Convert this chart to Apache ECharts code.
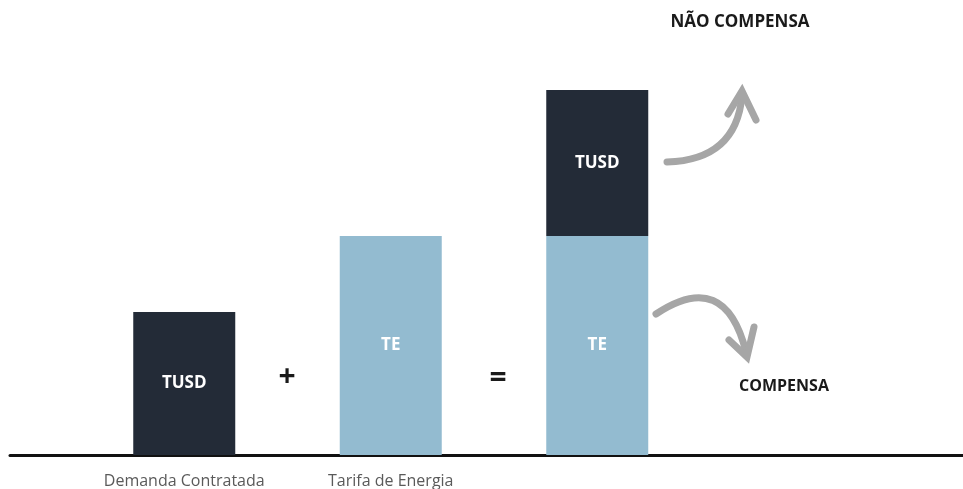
<!DOCTYPE html>
<html><head><meta charset="utf-8">
<script src="https://cdn.jsdelivr.net/npm/echarts@6/dist/echarts.min.js"></script>
<style>html,body{margin:0;padding:0;background:#fff}#c{width:963px;height:489px}</style>
</head><body><div id="c"></div>
<script>
const categories = ["Demanda Contratada", "Tarifa de Energia", ""];
const teValues = [0, 219, 219];
const tusdValues = [143, 0, 146];
const operators = ["+", "="];

const DARK = '#232b37', LIGHT = '#93bbd0', GRAY = '#a6a6a6';
const chart = echarts.init(document.getElementById('c'));
const lbl = { show: true, position: 'inside', color: '#fff', fontFamily: 'Open Sans', fontWeight: 'bold', fontSize: 17,
  formatter: p => p.value ? p.seriesName : '' };
chart.setOption({
  animation: false,
  grid: [
    { left: 10, right: 0, top: 55, bottom: 34 },
    { left: 81, width: 619.5, top: 55, bottom: 34 }
  ],
  xAxis: [
    { gridIndex: 0, type: 'category', data: [''], axisLine: { lineStyle: { color: '#111', width: 3 } }, axisTick: { show: false }, axisLabel: { show: false } },
    { gridIndex: 1, type: 'category', data: categories, axisLine: { show: false }, axisTick: { show: false },
      axisLabel: { interval: 0, color: '#5a5a5a', fontFamily: 'Open Sans', fontSize: 16, margin: 18 } }
  ],
  yAxis: [
    { gridIndex: 0, type: 'value', min: 0, max: 400, show: false },
    { gridIndex: 1, type: 'value', min: 0, max: 400, show: false }
  ],
  series: [
    { name: 'TE', type: 'bar', xAxisIndex: 1, yAxisIndex: 1, stack: 's', barWidth: 102, data: teValues, itemStyle: { color: LIGHT }, label: lbl },
    { name: 'TUSD', type: 'bar', xAxisIndex: 1, yAxisIndex: 1, stack: 's', barWidth: 102, data: tusdValues, itemStyle: { color: DARK }, label: lbl }
  ],
  graphic: [
    { type: 'text', x: 287, y: 377, style: { text: operators[0], fill: '#1a1a1a', font: 'bold 30px "Open Sans"', align: 'center', verticalAlign: 'middle' } },
    { type: 'text', x: 498, y: 378, style: { text: operators[1], fill: '#1a1a1a', font: 'bold 30px "Open Sans"', align: 'center', verticalAlign: 'middle' } },
    { type: 'text', x: 740, y: 22, style: { text: 'NÃO COMPENSA', fill: '#1a1a1a', font: 'bold 17px "Open Sans"', align: 'center', verticalAlign: 'middle' } },
    { type: 'text', x: 784, y: 386, style: { text: 'COMPENSA', fill: '#1a1a1a', font: 'bold 16px "Open Sans"', align: 'center', verticalAlign: 'middle' } },
    { type: 'bezierCurve', shape: { x1: 667, y1: 162, cpx1: 736, cpy1: 160, x2: 742, y2: 96 }, style: { stroke: GRAY, lineWidth: 7, fill: null, lineCap: 'round' } },
    { type: 'polyline', shape: { points: [[728, 114], [742, 91], [756, 120]] }, style: { stroke: GRAY, lineWidth: 7, fill: null, lineJoin: 'miter', lineCap: 'round' } },
    { type: 'bezierCurve', shape: { x1: 656, y1: 314, cpx1: 725, cpy1: 268, x2: 746, y2: 352 }, style: { stroke: GRAY, lineWidth: 7, fill: null, lineCap: 'round' } },
    { type: 'polyline', shape: { points: [[729, 340], [747, 357], [754, 327]] }, style: { stroke: GRAY, lineWidth: 7, fill: null, lineJoin: 'miter', lineCap: 'round' } }
  ]
});
</script></body></html>
